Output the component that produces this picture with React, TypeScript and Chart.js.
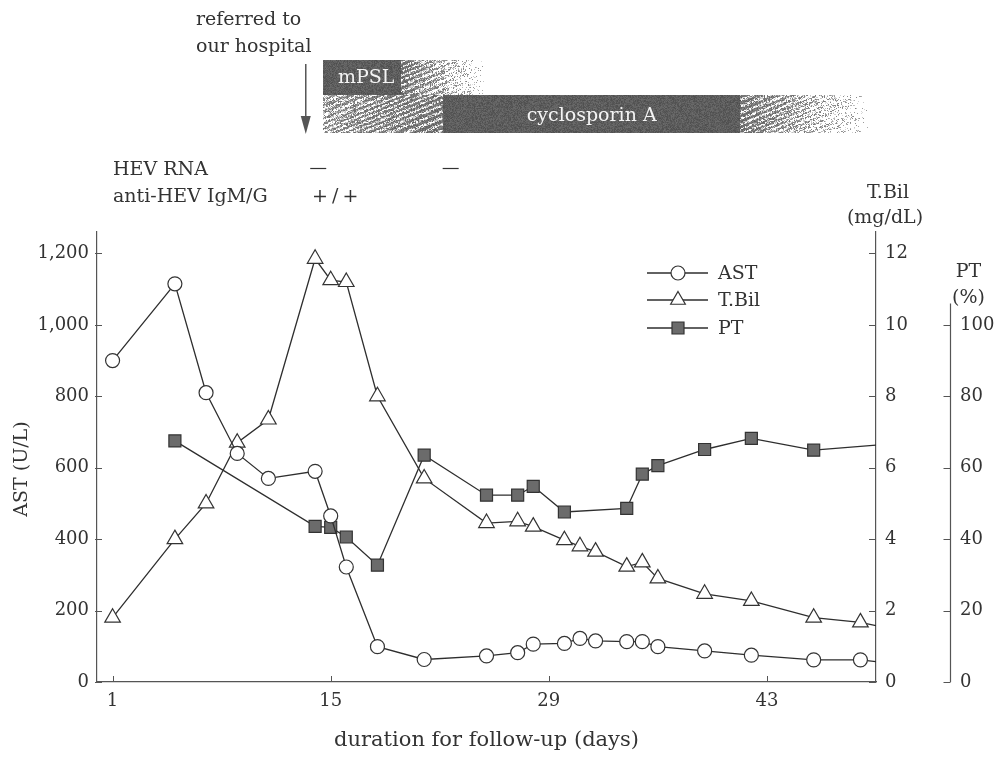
import React, { useEffect, useRef } from "react";
import { Chart, registerables } from "chart.js";

Chart.register(...registerables);

// ---------------- data ----------------
const astDays = [1, 5, 7, 9, 11, 14, 15, 16, 18, 21, 25, 27, 28, 30, 31, 32, 34, 35, 36, 39, 42, 46, 49, 50];
const astValues = [900, 1115, 810, 640, 570, 590, 465, 322, 99, 63, 73, 82, 106, 108, 122, 115, 113, 113, 99, 87, 75, 62, 62, 57];
const tbilDays = [1, 5, 7, 9, 11, 14, 15, 16, 18, 21, 25, 27, 28, 30, 31, 32, 34, 35, 36, 39, 42, 46, 49, 50];
const tbilValues = [1.8, 4.0, 5.0, 6.7, 7.35, 11.85, 11.25, 11.2, 8.0, 5.7, 4.45, 4.5, 4.35, 3.97, 3.8, 3.65, 3.23, 3.35, 2.9, 2.47, 2.27, 1.8, 1.67, 1.58];
const ptDays = [5, 14, 15, 16, 18, 21, 25, 27, 28, 30, 34, 35, 36, 39, 42, 46, 50];
const ptValues = [67.5, 43.6, 43.3, 40.6, 32.7, 63.5, 52.3, 52.3, 54.8, 47.6, 48.6, 58.2, 60.6, 65.1, 68.2, 64.9, 66.3];

const xTickValues = [1, 15, 29, 43];
const astTickValues = [0, 200, 400, 600, 800, 1000, 1200];
const tbilTickValues = [0, 2, 4, 6, 8, 10, 12];
const ptTickValues = [0, 20, 40, 60, 80, 100];
const seriesNames = ["AST", "T.Bil", "PT"];

// treatment annotations (days)
const referralDay = 13.4;
const treatmentNames = ["mPSL", "cyclosporin A"];
const treatmentStart = [14.5, 14.5];
const treatmentSolidStart = [14.5, 22.2];
const treatmentSolidEnd = [19.5, 41.3];
const treatmentEnd = [24.8, 49.5];
const hevRnaNegativeDays = [14.2, 22.7];
const antiHevDay = 14;
const antiHevResult = "+/+";

const FONT = '"DejaVu Serif", serif';
const INK = "#333";

function lastHidden(r: number) {
  return (c: any) => (c.dataIndex === c.dataset.data.length - 1 ? 0 : r);
}

function grain(x: number, y: number) {
  const s = Math.sin(x * 12.9898 + y * 78.233) * 43758.5453;
  return s - Math.floor(s);
}

// textured (streaky, grainy) bar segment whose density goes from dL to dR
function texturedRegion(ctx: CanvasRenderingContext2D, x0: number, x1: number, top: number, h: number, dL: number, dR: number) {
  const w = Math.max(1, Math.round(x1 - x0));
  const hh = Math.round(h);
  const img = ctx.createImageData(w, hh);
  const th = (22 * Math.PI) / 180;
  const sn = Math.sin(th);
  const cs = Math.cos(th);
  for (let y = 0; y < hh; y++) {
    for (let x = 0; x < w; x++) {
      const t = dL + ((dR - dL) * x) / w;
      const u = (x0 + x) * sn + (top + y) * cs;
      const stripe = 0.5 + 0.5 * Math.sin(u * 1.3 + 2.5 * Math.sin((x0 + x) * 0.045 + y * 0.1));
      const n = grain(x0 + x, top + y);
      const i = (y * w + x) * 4;
      if (t >= 1) {
        const g = 78 + Math.floor(grain(x + 7.1, y + 3.3) * 30);
        img.data[i] = g;
        img.data[i + 1] = g;
        img.data[i + 2] = g;
        img.data[i + 3] = 255;
        continue;
      }
      const prob = t * (0.2 + 1.0 * stripe);
      if (n < prob) {
        const g = 90 + Math.floor(grain(x + 7.1, y + 3.3) * 45) + Math.floor((1 - t) * 45);
        img.data[i] = g;
        img.data[i + 1] = g;
        img.data[i + 2] = g;
        img.data[i + 3] = 255;
      } else if (n < prob + 0.45 * t) {
        const g = 175 + Math.floor(grain(x + 1.7, y + 9.1) * 50);
        img.data[i] = g;
        img.data[i + 1] = g;
        img.data[i + 2] = g;
        img.data[i + 3] = 255;
      } else {
        img.data[i + 3] = 0;
      }
    }
  }
  const off = document.createElement("canvas");
  off.width = w;
  off.height = hh;
  off.getContext("2d")!.putImageData(img, 0, 0);
  ctx.drawImage(off, Math.round(x0), Math.round(top));
}

const decor = {
  id: "decor",
  afterDraw(chart: any) {
    const { ctx, chartArea, scales } = chart;
    const xs = scales.x;
    const ya = scales.yAST;
    const yt = scales.yTB;
    const yp = scales.yPT;
    ctx.save();
    ctx.strokeStyle = "#555";
    ctx.lineWidth = 1;
    // inward tick marks
    ctx.beginPath();
    xTickValues.forEach((v) => {
      const p = Math.round(xs.getPixelForValue(v)) + 0.5;
      ctx.moveTo(p, chartArea.bottom);
      ctx.lineTo(p, chartArea.bottom - 6);
    });
    astTickValues.forEach((v) => {
      const p = Math.round(ya.getPixelForValue(v)) + 0.5;
      ctx.moveTo(chartArea.left - 2, p);
      ctx.lineTo(chartArea.left + 5, p);
    });
    tbilTickValues.forEach((v) => {
      const p = Math.round(yt.getPixelForValue(v)) + 0.5;
      ctx.moveTo(chartArea.right, p);
      ctx.lineTo(chartArea.right - 7, p);
    });
    const px = Math.round(yp.left) + 0.5;
    ptTickValues.forEach((v) => {
      const p = Math.round(yp.getPixelForValue(v)) + 0.5;
      ctx.moveTo(px, p);
      ctx.lineTo(px - 7, p);
    });
    ctx.stroke();
    // PT axis line
    ctx.lineWidth = 1.2;
    ctx.beginPath();
    ctx.moveTo(px, yp.getPixelForValue(0));
    ctx.lineTo(px, yp.getPixelForValue(106));
    ctx.stroke();

    // axis titles
    ctx.fillStyle = INK;
    ctx.textBaseline = "middle";
    ctx.textAlign = "center";
    ctx.font = `21px ${FONT}`;
    ctx.fillText("duration for follow-up (days)", (chartArea.left + chartArea.right) / 2, 741);
    ctx.font = `19px ${FONT}`;
    ctx.fillText("T.Bil", chartArea.right + 12, 193);
    ctx.fillText("(mg/dL)", chartArea.right + 9, 218);
    ctx.fillText("PT", px + 18, 272);
    ctx.fillText("(%)", px + 18, 298);
    ctx.save();
    ctx.translate(22, (chartArea.top + chartArea.bottom) / 2 + 12);
    ctx.rotate(-Math.PI / 2);
    ctx.fillText("AST (U/L)", 0, 0);
    ctx.restore();

    // legend
    const rows = [273, 300, 328];
    const ds = chart.data.datasets;
    rows.forEach((ry, i) => {
      const d = ds[i];
      ctx.strokeStyle = d.borderColor;
      ctx.lineWidth = d.borderWidth;
      ctx.beginPath();
      ctx.moveTo(647, ry);
      ctx.lineTo(708, ry);
      ctx.stroke();
      ctx.fillStyle = d.pointBackgroundColor;
      ctx.strokeStyle = d.pointBorderColor;
      ctx.lineWidth = d.pointBorderWidth;
      const cx = 678;
      ctx.beginPath();
      if (d.pointStyle === "circle") {
        ctx.arc(cx, ry, 7, 0, Math.PI * 2);
      } else if (d.pointStyle === "triangle") {
        const r = 8.5;
        ctx.moveTo(cx, ry - r);
        ctx.lineTo(cx + r * 0.866, ry + r * 0.5);
        ctx.lineTo(cx - r * 0.866, ry + r * 0.5);
        ctx.closePath();
      } else {
        ctx.rect(cx - 6, ry - 6, 12, 12);
      }
      ctx.fill();
      ctx.stroke();
      ctx.fillStyle = INK;
      ctx.textAlign = "left";
      ctx.font = `19px ${FONT}`;
      ctx.fillText(seriesNames[i], 718, ry + 1);
    });

    // top annotations
    ctx.fillStyle = INK;
    ctx.textAlign = "left";
    ctx.font = `19px ${FONT}`;
    ctx.fillText("referred to", 196, 20);
    ctx.fillText("our hospital", 196, 47);

    const ax = xs.getPixelForValue(referralDay);
    ctx.strokeStyle = "#555";
    ctx.fillStyle = "#555";
    ctx.lineWidth = 1.5;
    ctx.beginPath();
    ctx.moveTo(ax, 64);
    ctx.lineTo(ax, 122);
    ctx.stroke();
    ctx.beginPath();
    ctx.moveTo(ax - 5, 116);
    ctx.lineTo(ax + 5, 116);
    ctx.lineTo(ax, 134);
    ctx.closePath();
    ctx.fill();

    const barTop = [60, 95];
    const barH = [35, 38];
    treatmentNames.forEach((name, i) => {
      const x0 = xs.getPixelForValue(treatmentStart[i]);
      const s0 = xs.getPixelForValue(treatmentSolidStart[i]);
      const s1 = xs.getPixelForValue(treatmentSolidEnd[i]);
      const x1 = xs.getPixelForValue(treatmentEnd[i]);
      if (s0 > x0 + 1) texturedRegion(ctx, x0, s0, barTop[i], barH[i], 0.6, 0.98);
      texturedRegion(ctx, s0, s1, barTop[i], barH[i], 1, 1);
      texturedRegion(ctx, s1, x1, barTop[i], barH[i], 0.95, 0.0);
      ctx.fillStyle = "#f4f4f4";
      ctx.font = `19px ${FONT}`;
      if (i === 0) {
        ctx.textAlign = "left";
        ctx.fillText(name, x0 + 15, barTop[i] + barH[i] / 2 + 1);
      } else {
        ctx.textAlign = "center";
        ctx.fillText(name, (s0 + s1) / 2, barTop[i] + barH[i] / 2 + 2);
      }
    });

    // serology rows
    ctx.fillStyle = INK;
    ctx.textAlign = "left";
    ctx.font = `19px ${FONT}`;
    ctx.fillText("HEV RNA", 113, 170);
    ctx.fillText("anti-HEV IgM/G", 113, 197);
    ctx.strokeStyle = INK;
    ctx.lineWidth = 1.2;
    hevRnaNegativeDays.forEach((d) => {
      const p = xs.getPixelForValue(d);
      ctx.beginPath();
      ctx.moveTo(p - 8, 168.5);
      ctx.lineTo(p + 8, 168.5);
      ctx.stroke();
    });
    (ctx as any).letterSpacing = "4px";
    ctx.fillText(antiHevResult, xs.getPixelForValue(antiHevDay) - 3, 197);
    (ctx as any).letterSpacing = "0px";
    ctx.restore();
  },
};

export default function App() {
  const ref = useRef<HTMLCanvasElement | null>(null);
  useEffect(() => {
    const canvas = ref.current!;
    const tickFont = { family: FONT, size: 18 };
    const lineCommon = {
      borderColor: "#2e2e2e",
      borderWidth: 1.3,
      tension: 0,
      pointBorderColor: "#333",
      pointBorderWidth: 1.2,
      pointHoverRadius: 0,
    };
    const noGrid = { display: false, drawTicks: false };
    const chart = new Chart(canvas, {
      type: "line",
      data: {
        datasets: [
          {
            ...lineCommon,
            label: seriesNames[0],
            data: astDays.map((d, i) => ({ x: d, y: astValues[i] })),
            yAxisID: "yAST",
            pointStyle: "circle",
            pointRadius: lastHidden(7),
            pointBackgroundColor: "#ffffff",
          },
          {
            ...lineCommon,
            label: seriesNames[1],
            data: tbilDays.map((d, i) => ({ x: d, y: tbilValues[i] })),
            yAxisID: "yTB",
            pointStyle: "triangle",
            pointRadius: lastHidden(9),
            pointBackgroundColor: "#ffffff",
          },
          {
            ...lineCommon,
            label: seriesNames[2],
            data: ptDays.map((d, i) => ({ x: d, y: ptValues[i] })),
            yAxisID: "yPT",
            pointStyle: "rect",
            pointRadius: lastHidden(8.5),
            pointBackgroundColor: "#6b6b6b",
          },
        ] as any,
      },
      options: {
        animation: false,
        responsive: false,
        events: [],
        layout: { padding: { top: 232, left: 0, right: 0, bottom: 0 } },
        plugins: { legend: { display: false }, tooltip: { enabled: false } },
        scales: {
          x: {
            type: "linear",
            position: "bottom",
            min: 0,
            max: 50,
            grid: noGrid,
            border: { display: true, color: "#555", width: 1.2 },
            afterBuildTicks: (s: any) => {
              s.ticks = xTickValues.map((v) => ({ value: v }));
            },
            afterFit: (s: any) => {
              s.height = 75;
            },
            ticks: { font: tickFont, color: INK, padding: 9, maxRotation: 0, autoSkip: false },
          },
          yAST: {
            type: "linear",
            position: "left",
            min: 0,
            max: 1260,
            grid: noGrid,
            border: { display: true, color: "#555", width: 1.2 },
            afterBuildTicks: (s: any) => {
              s.ticks = astTickValues.map((v) => ({ value: v }));
            },
            afterFit: (s: any) => {
              s.width = 97;
            },
            ticks: { font: tickFont, color: INK, padding: 8 },
          },
          yTB: {
            type: "linear",
            position: "right",
            min: 0,
            max: 12.6,
            grid: noGrid,
            border: { display: true, color: "#555", width: 1.2 },
            afterBuildTicks: (s: any) => {
              s.ticks = tbilTickValues.map((v) => ({ value: v }));
            },
            afterFit: (s: any) => {
              s.width = 74;
            },
            ticks: { font: tickFont, color: INK, padding: 9 },
          },
          yPT: {
            type: "linear",
            position: "right",
            min: 0,
            max: 126,
            grid: noGrid,
            border: { display: false },
            afterBuildTicks: (s: any) => {
              s.ticks = ptTickValues.map((v) => ({ value: v }));
            },
            afterFit: (s: any) => {
              s.width = 48;
            },
            ticks: { font: tickFont, color: INK, padding: 10 },
          },
        },
      } as any,
      plugins: [decor],
    });
    return () => chart.destroy();
  }, []);
  return (
    <div style={{ position: "absolute", left: 0, top: 0, width: 998, height: 757, background: "#fff" }}>
      <canvas ref={ref} width={998} height={757} style={{ width: 998, height: 757, display: "block" }} />
    </div>
  );
}
